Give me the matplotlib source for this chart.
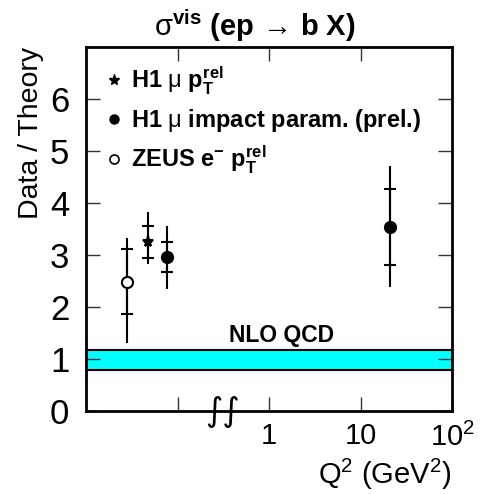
import matplotlib
matplotlib.use("Agg")
import matplotlib.pyplot as plt
from matplotlib.ticker import NullLocator
from matplotlib.lines import Line2D

plt.rcParams['font.family'] = ['Liberation Sans', 'DejaVu Sans']
plt.rcParams['mathtext.fontset'] = 'custom'
plt.rcParams['mathtext.rm'] = 'Liberation Sans'
plt.rcParams['mathtext.bf'] = 'Liberation Sans:bold'
plt.rcParams['mathtext.it'] = 'Liberation Sans:italic'

# donnees (Q2, rapport, erreurs stat et totales)
h1_pt_q2 = [0.048]
h1_pt_val = [3.26]
h1_pt_stat_hi = [3.56]
h1_pt_stat_lo = [2.95]
h1_pt_tot_hi = [3.82]
h1_pt_tot_lo = [2.83]

h1_ip_q2 = [0.077, 21.0]
h1_ip_val = [2.96, 3.54]
h1_ip_stat_hi = [3.26, 4.27]
h1_ip_stat_lo = [2.67, 2.81]
h1_ip_tot_hi = [3.56, 4.72]
h1_ip_tot_lo = [2.35, 2.38]

zeus_q2 = [0.028]
zeus_val = [2.49]
zeus_stat_hi = [3.12]
zeus_stat_lo = [1.87]
zeus_tot_hi = [3.33]
zeus_tot_lo = [1.32]

nlo_lo, nlo_hi = 0.79, 1.18

legend_labels = [r'H1 $\mathrm{\mu}$ $\mathbf{p_T^{rel}}$',
                 r'H1 $\mathrm{\mu}$ impact param. (prel.)',
                 r'ZEUS $\mathbf{e^{-}}$ $\mathbf{p_T^{rel}}$']

fig = plt.figure(figsize=(4.81, 4.94), dpi=100)
ax = fig.add_axes([86/481, 1-411.3/494, 366/481, 364.3/494])

# bande NLO QCD
ax.axhspan(nlo_lo, nlo_hi, facecolor='#00ffff', edgecolor='black', lw=1.5, zorder=1)
ax.text(1.36, 1.45, 'NLO QCD', fontsize=16.5, fontweight='bold', ha='center', va='center')


def points(x, v, slo, shi, tlo, thi, marker, fc):
    # erreur totale : trait sans cap
    ax.errorbar(x, v, yerr=[[a - b for a, b in zip(v, tlo)], [b - a for a, b in zip(v, thi)]],
                fmt='none', ecolor='black', elinewidth=1.5, capsize=0, zorder=3)
    # erreur stat : petits traits horizontaux
    ax.errorbar(x, v, yerr=[[a - b for a, b in zip(v, slo)], [b - a for a, b in zip(v, shi)]],
                fmt='none', ecolor='black', elinewidth=1.5, capsize=4, capthick=1.5, zorder=3)
    ax.plot(x, v, ls='none', marker=marker, ms=8, mfc=fc, mec='black', mew=1.5, zorder=4)


points(h1_pt_q2, h1_pt_val, h1_pt_stat_lo, h1_pt_stat_hi, h1_pt_tot_lo, h1_pt_tot_hi, '*', 'black')
points(h1_ip_q2, h1_ip_val, h1_ip_stat_lo, h1_ip_stat_hi, h1_ip_tot_lo, h1_ip_tot_hi, 'o', 'black')
points(zeus_q2, zeus_val, zeus_stat_lo, zeus_stat_hi, zeus_tot_lo, zeus_tot_hi, 'o', 'white')

handles = [Line2D([], [], ls='none', marker='*', ms=8, mfc='black', mec='black'),
           Line2D([], [], ls='none', marker='o', ms=6.5, mfc='black', mec='black'),
           Line2D([], [], ls='none', marker='o', ms=6.5, mfc='white', mec='black', mew=1.2)]
ax.legend(handles, legend_labels, loc='upper left', frameon=False,
          bbox_to_anchor=(0.022, 0.99),
          prop={'size': 17, 'weight': 'bold'}, handlelength=0.5, handletextpad=0.45,
          labelspacing=0.42, borderpad=0.3, borderaxespad=0.3)

ax.set_xscale('log')
ax.set_xlim(0.01, 100)
ax.set_ylim(0, 7)
ax.set_xticks([0.1, 1, 10, 100])
ax.set_xticklabels(['', '1', '10', r'$10^{2}$'])
ax.xaxis.set_minor_locator(NullLocator())
ax.set_yticks(range(7))
ax.tick_params(axis='both', direction='in', length=10, width=1,
               top=True, right=True, color='#333333')
ax.tick_params(axis='x', pad=8, labelsize=21)
ax.tick_params(axis='y', pad=12, labelsize=25)
for s in ax.spines.values():
    s.set_linewidth(2)

# symbole de coupure de l'axe
ax.text(0.31, 0, '\u222b\u222b', fontsize=24, family='DejaVu Sans', style='italic',
        ha='center', va='center', transform=ax.get_xaxis_transform(), zorder=5)

ax.set_xlabel(r'Q$^{2}$ (GeV$^{2}$)', fontsize=21, loc='right', labelpad=4)
ax.set_ylabel('Data / Theory', fontsize=20.5, loc='top', labelpad=4)
ax.set_title(r'$\mathrm{\sigma}^{\mathbf{vis}}\ \mathbf{(ep}\,\rightarrow\,\mathbf{b\ X)}$',
             fontsize=21, pad=8, x=0.46)

fig.savefig('out.png', dpi=100)
